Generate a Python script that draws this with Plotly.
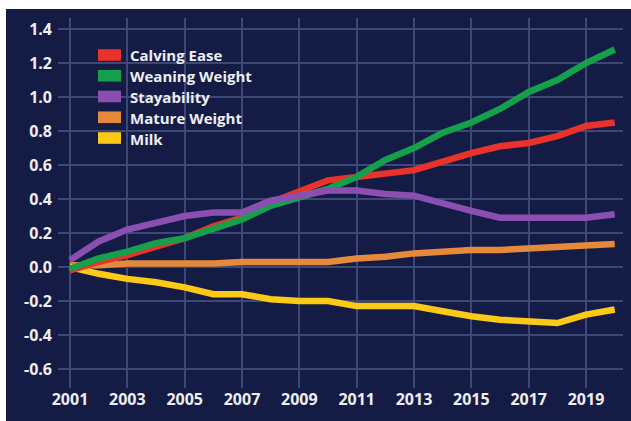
import plotly.graph_objects as go

years = list(range(2001, 2021))
calving_ease = [-0.02, 0.03, 0.07, 0.12, 0.17, 0.24, 0.29, 0.38, 0.45, 0.51,
                0.53, 0.55, 0.57, 0.62, 0.67, 0.71, 0.73, 0.77, 0.83, 0.85]
weaning_weight = [-0.01, 0.05, 0.09, 0.14, 0.17, 0.23, 0.28, 0.36, 0.41, 0.46,
                  0.53, 0.63, 0.70, 0.79, 0.85, 0.93, 1.03, 1.10, 1.20, 1.28]
stayability = [0.04, 0.15, 0.22, 0.26, 0.30, 0.32, 0.32, 0.39, 0.42, 0.45,
               0.45, 0.43, 0.42, 0.37, 0.33, 0.29, 0.29, 0.29, 0.29, 0.31]
mature_weight = [0.01, 0.01, 0.02, 0.02, 0.02, 0.02, 0.03, 0.03, 0.03, 0.03,
                 0.05, 0.06, 0.08, 0.09, 0.10, 0.10, 0.11, 0.12, 0.13, 0.135]
milk = [0.0, -0.04, -0.07, -0.09, -0.12, -0.16, -0.16, -0.19, -0.20, -0.20,
        -0.23, -0.23, -0.23, -0.26, -0.29, -0.31, -0.32, -0.33, -0.28, -0.25]

series_names = ["Calving Ease", "Weaning Weight", "Stayability", "Mature Weight", "Milk"]
series_values = [calving_ease, weaning_weight, stayability, mature_weight, milk]
series_colors = ["#e8322a", "#16a04b", "#8b4fb2", "#e58a3a", "#fcc917"]
draw_order = [3, 4, 0, 1, 2]

x_tick_vals = list(range(2001, 2020, 2))
y_tick_vals = [1.4, 1.2, 1.0, 0.8, 0.6, 0.4, 0.2, 0.0, -0.2, -0.4, -0.6]
y_tick_text = ["%.1f" % v for v in y_tick_vals]

NAVY = "#141c46"
GRID = "#3d4778"
TXT = "#eeeef2"
FONT = "Open Sans"

fig = go.Figure()
for i in draw_order:
    fig.add_trace(go.Scatter(
        x=years, y=series_values[i], mode="lines", name=series_names[i],
        line=dict(color=series_colors[i], width=6.5), showlegend=False,
        hoverinfo="skip"))

W, H = 631, 421
ml, mr, mt, mb = 58, 8, 18, 33
pw, ph = W - ml - mr, H - mt - mb


def px_to_paper_x(px):
    return (px - ml) / pw


def px_to_paper_y(py):
    return (H - mb - py) / ph


shapes = [dict(type="rect", xref="paper", yref="paper",
               x0=px_to_paper_x(6), x1=px_to_paper_x(640),
               y0=px_to_paper_y(9), y1=px_to_paper_y(430),
               fillcolor=NAVY, line=dict(width=0), layer="below")]
annotations = []
for i, name in enumerate(series_names):
    cy = 55 + i * 20.75
    shapes.append(dict(type="rect", xref="paper", yref="paper",
                       x0=px_to_paper_x(98), x1=px_to_paper_x(121),
                       y0=px_to_paper_y(cy + 5.8), y1=px_to_paper_y(cy - 5.8),
                       fillcolor=series_colors[i], line=dict(width=0)))
    annotations.append(dict(xref="paper", yref="paper",
                            x=px_to_paper_x(128), y=px_to_paper_y(cy + 0.5),
                            xanchor="left", yanchor="middle", showarrow=False,
                            text=name,
                            font=dict(family=FONT, size=15, color=TXT, weight="bold")))

fig.update_layout(
    width=W, height=H,
    margin=dict(l=ml, r=mr, t=mt, b=mb, pad=0),
    paper_bgcolor="white",
    plot_bgcolor=NAVY,
    shapes=shapes,
    annotations=annotations,
    showlegend=False,
)
fig.update_xaxes(
    range=[2000.581, 2020.29], tickmode="array", tickvals=x_tick_vals,
    ticktext=[str(v) for v in x_tick_vals],
    showgrid=True, gridcolor=GRID, gridwidth=2, zeroline=False, showline=False,
    ticks="", ticklabelstandoff=0,
    tickfont=dict(family=FONT, size=16, color=TXT, weight="bold"))
fig.update_yaxes(
    range=[-0.712, 1.465], tickmode="array", tickvals=y_tick_vals,
    ticktext=y_tick_text,
    showgrid=True, gridcolor=GRID, gridwidth=2, zeroline=False, showline=False,
    ticks="", ticklabelstandoff=5,
    tickfont=dict(family=FONT, size=16, color=TXT, weight="bold"))

fig.write_html("out.html")
